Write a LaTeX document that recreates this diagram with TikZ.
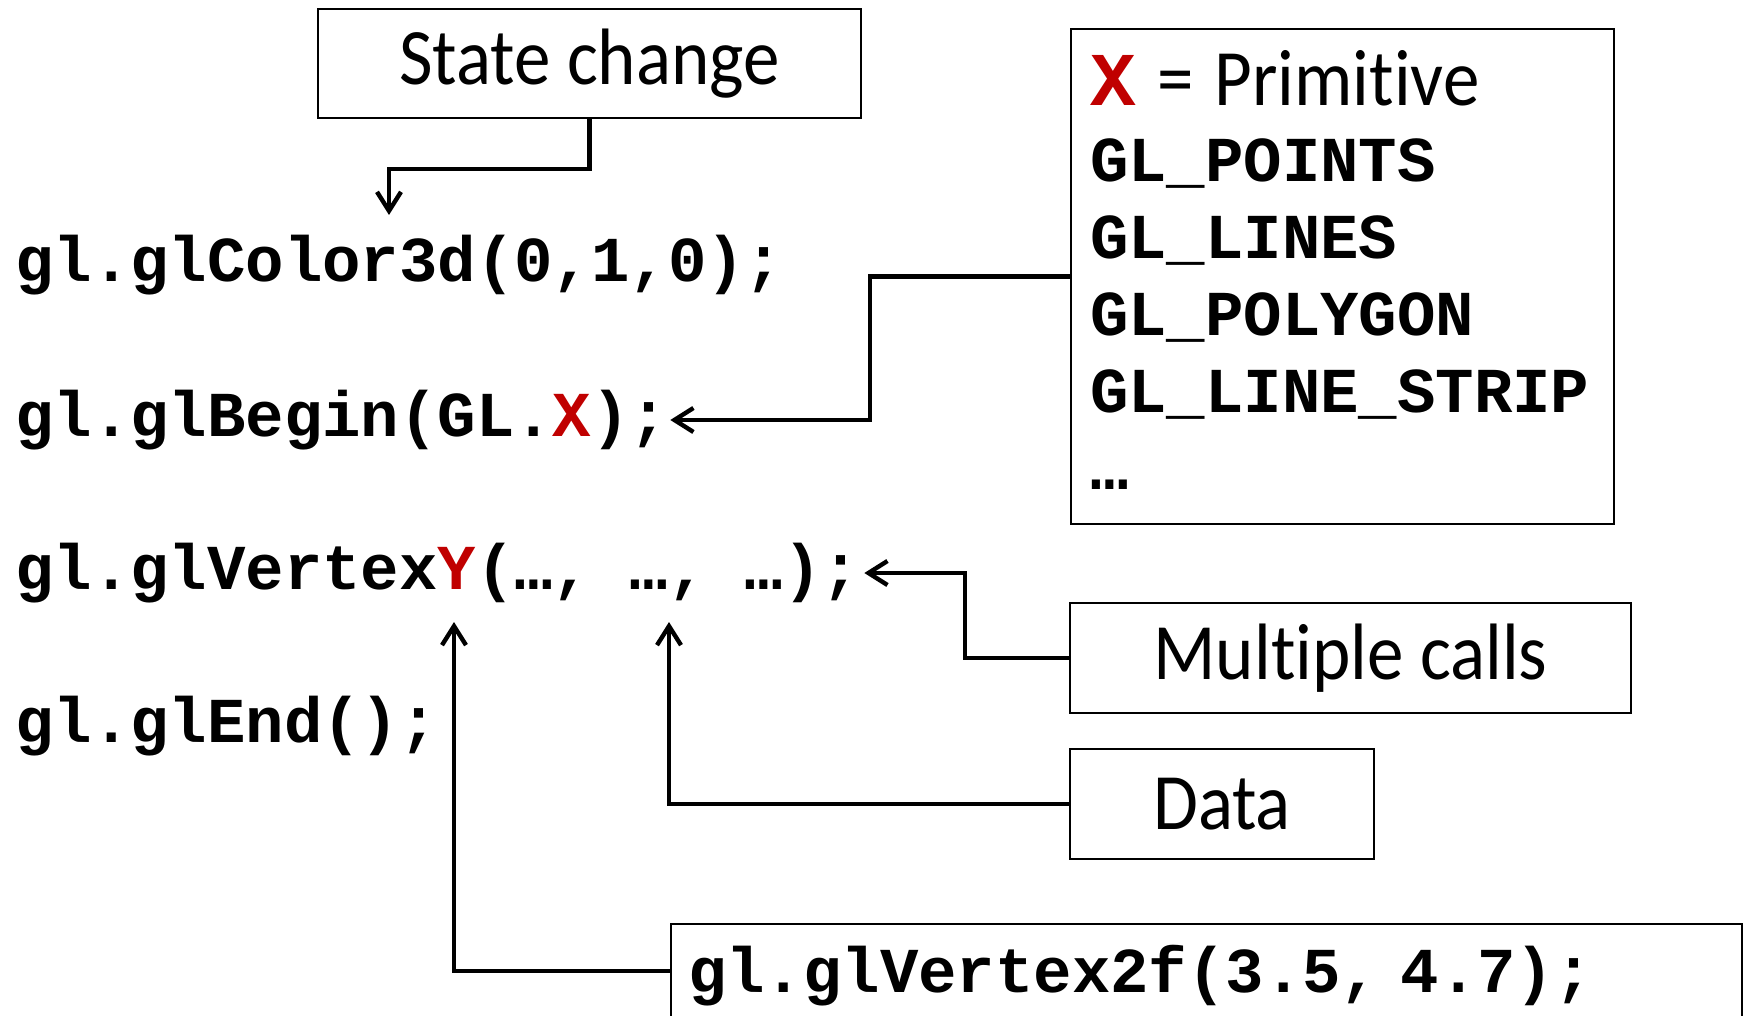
\documentclass[tikz,border=0pt]{standalone}
\usepackage{fontspec}
\setmainfont{Carlito}[FakeStretch=0.9125, Ligatures=NoCommon]
\setmonofont{Liberation Mono}
\usetikzlibrary{arrows.meta}
\definecolor{glred}{HTML}{C00000}

\begin{document}
\begin{tikzpicture}[x=1pt,y=1pt,
  box/.style={draw, line width=2.2pt, inner sep=0pt, font=\fontsize{80}{88}\selectfont},
  code/.style={anchor=west, inner sep=0pt, font=\fontsize{64}{76.8}\selectfont\ttfamily\bfseries},
  conn/.style={line width=4.4pt, -{Straight Barb[length=19pt,width=24pt]}}]
\useasboundingbox (0,0) rectangle (1752,-1016);
\node[code] (color) at (15,-265) {gl.glColor3d(0,1,0);};
\node[code] (begin) at (15,-420) {gl.glBegin(GL.\textcolor{glred}{X});};
\node[code] (vertex) at (15,-573) {gl.glVertex\textcolor{glred}{Y}(…, …, …);};
\node[code] (end) at (15,-726) {gl.glEnd();};
\node[box, minimum width=543pt, minimum height=109pt] (state) at (589.5,-63.5) {State change};
\node[box, code, anchor=north west, align=left, text width=505pt, inner xsep=19pt, inner ysep=0pt,
  text height=76pt, text depth=419pt] (prim) at (1070,-28)
  {{\fontsize{76}{76.8}\selectfont\textcolor{glred}{X}\rmfamily\mdseries\fontsize{80}{76.8}\selectfont{} = Primitive}\\
   GL\_POINTS\\ GL\_LINES\\ GL\_POLYGON\\ GL\_LINE\_STRIP\\ …};
\node[box, minimum width=561pt, minimum height=110pt] (calls) at (1350.5,-658) {Multiple calls};
\node[box, minimum width=304pt, minimum height=110pt] (data) at (1222,-804) {Data};
\node[box, code, anchor=north west, align=left, text width=1037pt, inner xsep=17pt, inner ysep=0pt,
  text height=68pt, text depth=26pt] (v2f) at (670,-923) {gl.glVertex2f(3.5, 4.7);};
\coordinate (colortip) at (389,-215);
\coordinate (datatip) at (669,-622);
\coordinate (ytip) at (454,-622);
\draw[conn] (state.south) -- ++(0,-50) -| (colortip);
\draw[conn] (prim.west) -- ++(-200,0) |- ([xshift=2pt]begin.east);
\draw[conn] (calls.west) -- ++(-104,0) |- ([xshift=4pt]vertex.east);
\draw[conn] (data.west) -| (datatip);
\draw[conn] (v2f.west) -| (ytip);
\end{tikzpicture}
\end{document}
